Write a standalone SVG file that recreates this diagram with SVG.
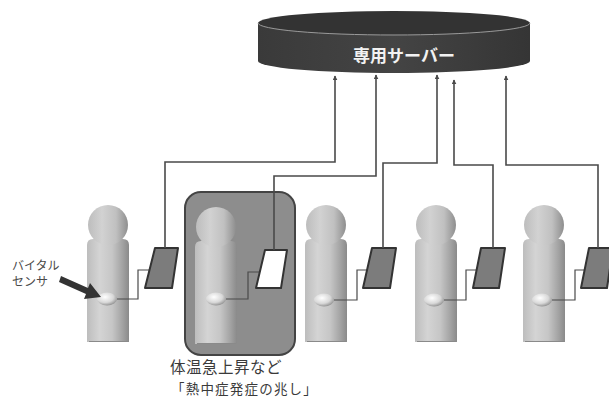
<svg xmlns="http://www.w3.org/2000/svg" width="609" height="398" viewBox="0 0 609 398">
  <style>
    .wire { fill: none; stroke: #4a4a4a; stroke-width: 1.2; }
    .link { fill: none; stroke: #4a4a4a; stroke-width: 1.6; }
    .phone { fill: #7c7c7c; stroke: #333; stroke-width: 2; stroke-linejoin: round; }
    .phone-alert { fill: #ffffff; stroke: #333; stroke-width: 2; stroke-linejoin: round; }
    .label { font-family: "Noto Sans CJK JP", "Noto Sans", sans-serif; fill: #3a3a3a; }
    .small { font-family: "Noto Sans CJK JP", "Noto Sans", sans-serif; fill: #4a4a4a; font-size: 12px; }
    .server-text { font-family: "Noto Sans CJK JP", sans-serif; fill: #f2f2f2; font-size: 17px; font-weight: bold; }
  </style>
  <defs>
    <linearGradient id="bodyGrad" x1="0" y1="0" x2="1" y2="0">
      <stop offset="0" stop-color="#bdbdbd"/>
      <stop offset="0.3" stop-color="#d4d4d4"/>
      <stop offset="0.6" stop-color="#c6c6c6"/>
      <stop offset="0.85" stop-color="#a2a2a2"/>
      <stop offset="1" stop-color="#8a8a8a"/>
    </linearGradient>
    <linearGradient id="headGrad" x1="0" y1="0" x2="1" y2="0">
      <stop offset="0" stop-color="#bdbdbd"/>
      <stop offset="0.35" stop-color="#d2d2d2"/>
      <stop offset="0.7" stop-color="#c0c0c0"/>
      <stop offset="1" stop-color="#8e8e8e"/>
    </linearGradient>
    <radialGradient id="sensorGrad" cx="0.4" cy="0.35" r="0.7">
      <stop offset="0" stop-color="#ffffff"/>
      <stop offset="0.6" stop-color="#d8d8d8"/>
      <stop offset="1" stop-color="#8a8a8a"/>
    </radialGradient>
    <linearGradient id="serverGrad" x1="0" y1="0" x2="1" y2="0">
      <stop offset="0" stop-color="#3a3a3a"/>
      <stop offset="0.5" stop-color="#444"/>
      <stop offset="1" stop-color="#353535"/>
    </linearGradient>
    <marker id="tip" viewBox="0 0 8 8" refX="7" refY="4" markerWidth="5" markerHeight="5" orient="auto" markerUnits="userSpaceOnUse">
      <path d="M0,0 L8,4 L0,8 z" fill="#4a4a4a"/>
    </marker>
    <!-- worker figure: head merging into a round-shouldered body, origin at body left / head top -->
    <g id="figure">
      <path d="M0,40 Q0,34 6,34 L36,34 Q42,34 42,40 L42,137 L0,137 z" fill="url(#bodyGrad)"/>
      <circle cx="21" cy="20" r="20" fill="url(#headGrad)"/>
      <line x1="2" y1="136.5" x2="41" y2="136.5" stroke="#8a8a8a" stroke-width="1"/>
    </g>
  </defs>

  <rect width="609" height="398" fill="#ffffff"/>

  <!-- dedicated server -->
  <g id="server">
    <path d="M258,23 L258,61 A136,12 0 0 0 530,61 L530,23 z" fill="url(#serverGrad)"/>
    <ellipse cx="394" cy="23" rx="136" ry="12" fill="#333"/>
    <path d="M258,23 A136,12 0 0 0 530,23" fill="none" stroke="#9a9a9a" stroke-width="1"/>
    <text class="server-text" x="404" y="62" text-anchor="middle">専用サーバー</text>
  </g>

  <!-- highlighted worker -->
  <g id="alert-box">
    <rect x="185" y="192" width="110" height="163" rx="16" fill="#8d8d8d" stroke="#444" stroke-width="2"/>
  </g>

  <g id="worker1">
    <use href="#figure" x="87" y="205"/>
    <ellipse cx="107" cy="299" rx="10" ry="6.5" fill="url(#sensorGrad)"/>
    <path class="wire" d="M117,299 H138 V270 H150"/>
    <path class="phone" d="M155,248 L178,248 L172,288 L145,288 z"/>
  </g>
  <g id="worker2">
    <use href="#figure" x="195" y="207"/>
    <ellipse cx="216" cy="299" rx="10" ry="6.5" fill="url(#sensorGrad)"/>
    <path class="wire" d="M226,299 H248 V272 H260"/>
    <path class="phone-alert" d="M265,250 L287,250 L281,288 L256,288 z"/>
  </g>
  <g id="worker3">
    <use href="#figure" x="305" y="205"/>
    <ellipse cx="324" cy="300" rx="10" ry="6.5" fill="url(#sensorGrad)"/>
    <path class="wire" d="M334,300 H357 V270 H368"/>
    <path class="phone" d="M372,248 L396,248 L390,288 L363,288 z"/>
  </g>
  <g id="worker4">
    <use href="#figure" x="415" y="205"/>
    <ellipse cx="434" cy="300" rx="10" ry="6.5" fill="url(#sensorGrad)"/>
    <path class="wire" d="M444,300 H466 V270 H477"/>
    <path class="phone" d="M481,248 L505,248 L499,288 L473,288 z"/>
  </g>
  <g id="worker5">
    <use href="#figure" x="523" y="205"/>
    <ellipse cx="542" cy="300" rx="10" ry="6.5" fill="url(#sensorGrad)"/>
    <path class="wire" d="M552,300 H575 V270 H585"/>
    <path class="phone" d="M589,248 L613,248 L607,288 L581,288 z"/>
  </g>

  <!-- uplinks from each handset to the server -->
  <g id="connectors">
    <path class="link" d="M165,248 V162 H335 V76" marker-end="url(#tip)"/>
    <path class="link" d="M274,250 V176 H376 V75" marker-end="url(#tip)"/>
    <path class="link" d="M383,248 V163 H437 V75" marker-end="url(#tip)"/>
    <path class="link" d="M493,248 V165 H454 V80" marker-end="url(#tip)"/>
    <path class="link" d="M598,248 V165 H506 V76" marker-end="url(#tip)"/>
  </g>

  <!-- sensor callout -->
  <g id="sensor-label">
    <text class="small" x="12" y="270">バイタル</text>
    <text class="small" x="12" y="286">センサ</text>
    <path d="M61,276 L88,288 L90,283 L101,297 L84,299 L86,294 L59,282 z" fill="#333"/>
  </g>

  <g id="alert-label">
    <text class="label" x="170" y="373" font-size="15.5" letter-spacing="0.5">体温急上昇など</text>
    <text class="label" x="171" y="394" font-size="13.5" letter-spacing="1.2">「熱中症発症の兆し」</text>
  </g>
</svg>
